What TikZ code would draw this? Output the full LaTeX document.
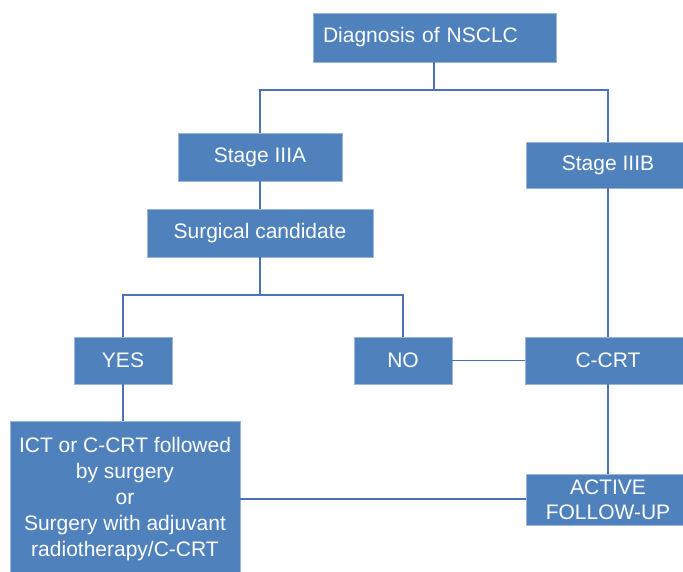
\documentclass[tikz,border=0pt]{standalone}
\usepackage{fontspec}
\setmainfont{Liberation Sans}
\definecolor{boxfill}{HTML}{4F81BD}
\definecolor{boxedge}{HTML}{9BB5D9}
\definecolor{linec}{HTML}{4A72B5}
\begin{document}
\begin{tikzpicture}[x=1pt,y=-1pt,
  bx/.style={draw=boxedge,line width=0.8pt,fill=boxfill,text=white,inner sep=0pt,
    font=\fontsize{21}{26}\selectfont,align=center},
  conn/.style={draw=linec,line width=1.3pt}]
\useasboundingbox (0,0) rectangle (683,572);
\node[bx,minimum width=243,minimum height=49,text width=223,align=left] (diag) at (434.5,37.5) {Diagnosis of NSCLC};
\node[bx,minimum width=164,minimum height=48] (iiia) at (260,157) {Stage IIIA};
\node[bx,minimum width=164,minimum height=46] (iiib) at (608,165) {Stage IIIB};
\node[bx,minimum width=226,minimum height=48] (surg) at (260,233) {Surgical candidate};
\node[bx,minimum width=98,minimum height=47] (yes) at (123,360.5) {YES};
\node[bx,minimum width=98,minimum height=47] (no) at (403,360.5) {NO};
\node[bx,minimum width=166,minimum height=47] (ccrt) at (608,360.5) {C-CRT};
\node[bx,minimum width=230,minimum height=156] (ict) at (125,499) {ICT or C-CRT followed\\by surgery\\or\\Surgery with adjuvant\\radiotherapy/C-CRT};
\node[bx,minimum width=164,minimum height=51,font=\fontsize{21}{25}\selectfont] (act) at (608,500) {ACTIVE\\FOLLOW-UP};
\coordinate (bar1) at (434,90);
\coordinate (bar2) at (260,295);
\draw[conn] (diag.south -| bar1) -- (bar1);
\draw[conn] (iiia.north) |- (bar1) -| (iiib.north);
\draw[conn] (iiia.south) -- (surg.north);
\draw[conn] (surg.south) -- (bar2);
\draw[conn] (yes.north) |- (bar2) -| (no.north);
\draw[conn] (no.east) -- (ccrt.west);
\draw[conn] (iiib.south) -- (ccrt.north);
\draw[conn] (ccrt.south) -- (act.north);
\draw[conn] (yes.south) -- (yes.south |- ict.north);
\draw[conn] (ict.east) -- (ict.east -| act.west);
\end{tikzpicture}
\end{document}
